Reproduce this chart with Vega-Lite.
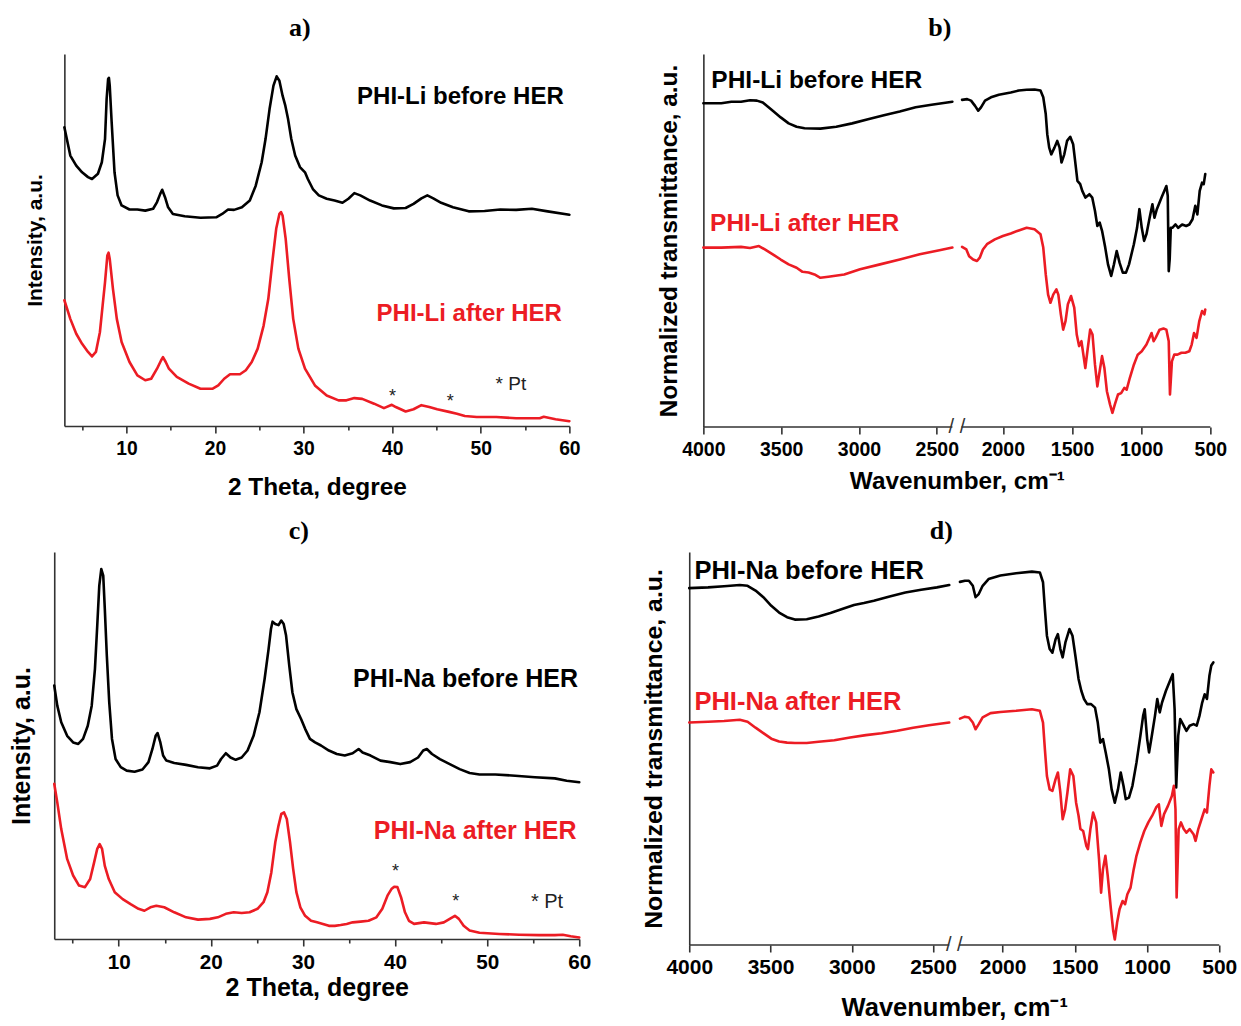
{
  "$schema": "https://vega.github.io/schema/vega-lite/v6.json",
  "background": "white",
  "padding": {"left": 9, "top": 15, "right": 0, "bottom": 0},
  "config": {
    "view": {"stroke": null},
    "axis": {
      "grid": false,
      "labelFont": "Liberation Sans",
      "labelFontWeight": "bold",
      "labelColor": "#000000",
      "titleFont": "Liberation Sans",
      "titleFontWeight": "bold",
      "titleColor": "#000000",
      "domainColor": "#333333",
      "domainWidth": 1.6,
      "tickColor": "#333333",
      "tickWidth": 1.6,
      "labelFlush": false,
      "labelOverlap": false
    },
    "title": {"font": "Liberation Serif", "fontSize": 26, "fontWeight": "bold", "color": "#000000", "anchor": "middle", "offset": 13},
    "line": {"strokeWidth": 2.6, "strokeJoin": "round", "strokeCap": "round"}
  },
  "datasets": {
    "xrdLi": [
      {"s":"before","x":3.00,"y":0.803},{"s":"before","x":3.67,"y":0.727},{"s":"before","x":4.34,"y":0.700},{"s":"before","x":5.00,"y":0.682},{"s":"before","x":5.67,"y":0.669},{"s":"before","x":6.12,"y":0.664},{"s":"before","x":6.79,"y":0.678},{"s":"before","x":7.23,"y":0.709},{"s":"before","x":7.59,"y":0.772},{"s":"before","x":7.77,"y":0.879},{"s":"before","x":7.94,"y":0.933},{"s":"before","x":8.03,"y":0.936},{"s":"before","x":8.12,"y":0.915},{"s":"before","x":8.34,"y":0.816},{"s":"before","x":8.66,"y":0.682},{"s":"before","x":9.01,"y":0.620},{"s":"before","x":9.46,"y":0.593},{"s":"before","x":10.35,"y":0.582},{"s":"before","x":11.24,"y":0.582},{"s":"before","x":12.13,"y":0.579},{"s":"before","x":13.02,"y":0.584},{"s":"before","x":13.46,"y":0.602},{"s":"before","x":13.82,"y":0.624},{"s":"before","x":14.04,"y":0.635},{"s":"before","x":14.36,"y":0.615},{"s":"before","x":14.71,"y":0.588},{"s":"before","x":15.25,"y":0.570},{"s":"before","x":16.58,"y":0.564},{"s":"before","x":18.36,"y":0.560},{"s":"before","x":20.14,"y":0.561},{"s":"before","x":20.81,"y":0.570},{"s":"before","x":21.48,"y":0.582},{"s":"before","x":22.15,"y":0.581},{"s":"before","x":23.04,"y":0.588},{"s":"before","x":23.93,"y":0.606},{"s":"before","x":24.60,"y":0.646},{"s":"before","x":25.27,"y":0.709},{"s":"before","x":25.71,"y":0.772},{"s":"before","x":26.16,"y":0.852},{"s":"before","x":26.60,"y":0.915},{"s":"before","x":26.96,"y":0.940},{"s":"before","x":27.27,"y":0.928},{"s":"before","x":27.63,"y":0.888},{"s":"before","x":27.94,"y":0.861},{"s":"before","x":28.25,"y":0.825},{"s":"before","x":28.61,"y":0.772},{"s":"before","x":29.05,"y":0.727},{"s":"before","x":29.59,"y":0.696},{"s":"before","x":30.16,"y":0.682},{"s":"before","x":30.48,"y":0.664},{"s":"before","x":31.05,"y":0.637},{"s":"before","x":31.72,"y":0.620},{"s":"before","x":32.61,"y":0.611},{"s":"before","x":33.50,"y":0.606},{"s":"before","x":34.39,"y":0.600},{"s":"before","x":35.06,"y":0.611},{"s":"before","x":35.73,"y":0.626},{"s":"before","x":36.40,"y":0.620},{"s":"before","x":37.51,"y":0.606},{"s":"before","x":38.85,"y":0.593},{"s":"before","x":40.18,"y":0.585},{"s":"before","x":41.52,"y":0.586},{"s":"before","x":42.41,"y":0.597},{"s":"before","x":43.30,"y":0.612},{"s":"before","x":43.97,"y":0.620},{"s":"before","x":44.64,"y":0.612},{"s":"before","x":45.53,"y":0.600},{"s":"before","x":46.86,"y":0.588},{"s":"before","x":48.64,"y":0.577},{"s":"before","x":50.43,"y":0.578},{"s":"before","x":52.21,"y":0.582},{"s":"before","x":53.99,"y":0.581},{"s":"before","x":55.77,"y":0.584},{"s":"before","x":57.55,"y":0.577},{"s":"before","x":60.00,"y":0.568},
      {"s":"after","x":3.00,"y":0.338},{"s":"after","x":3.67,"y":0.288},{"s":"after","x":4.34,"y":0.248},{"s":"after","x":5.00,"y":0.221},{"s":"after","x":5.67,"y":0.199},{"s":"after","x":6.12,"y":0.187},{"s":"after","x":6.56,"y":0.199},{"s":"after","x":7.01,"y":0.252},{"s":"after","x":7.32,"y":0.324},{"s":"after","x":7.59,"y":0.387},{"s":"after","x":7.85,"y":0.458},{"s":"after","x":7.99,"y":0.466},{"s":"after","x":8.12,"y":0.449},{"s":"after","x":8.48,"y":0.369},{"s":"after","x":8.92,"y":0.288},{"s":"after","x":9.46,"y":0.226},{"s":"after","x":10.35,"y":0.172},{"s":"after","x":11.24,"y":0.136},{"s":"after","x":12.13,"y":0.123},{"s":"after","x":12.80,"y":0.127},{"s":"after","x":13.46,"y":0.154},{"s":"after","x":13.91,"y":0.176},{"s":"after","x":14.13,"y":0.185},{"s":"after","x":14.44,"y":0.172},{"s":"after","x":14.80,"y":0.154},{"s":"after","x":15.69,"y":0.132},{"s":"after","x":17.03,"y":0.114},{"s":"after","x":18.36,"y":0.100},{"s":"after","x":19.70,"y":0.100},{"s":"after","x":20.37,"y":0.109},{"s":"after","x":21.04,"y":0.127},{"s":"after","x":21.70,"y":0.139},{"s":"after","x":22.82,"y":0.139},{"s":"after","x":23.48,"y":0.150},{"s":"after","x":24.15,"y":0.172},{"s":"after","x":24.82,"y":0.208},{"s":"after","x":25.49,"y":0.270},{"s":"after","x":26.02,"y":0.342},{"s":"after","x":26.47,"y":0.440},{"s":"after","x":26.91,"y":0.530},{"s":"after","x":27.27,"y":0.570},{"s":"after","x":27.45,"y":0.575},{"s":"after","x":27.63,"y":0.566},{"s":"after","x":27.98,"y":0.503},{"s":"after","x":28.38,"y":0.396},{"s":"after","x":28.83,"y":0.288},{"s":"after","x":29.41,"y":0.208},{"s":"after","x":30.16,"y":0.154},{"s":"after","x":31.28,"y":0.109},{"s":"after","x":32.61,"y":0.082},{"s":"after","x":33.95,"y":0.069},{"s":"after","x":34.84,"y":0.069},{"s":"after","x":35.73,"y":0.075},{"s":"after","x":36.62,"y":0.073},{"s":"after","x":37.96,"y":0.060},{"s":"after","x":39.07,"y":0.048},{"s":"after","x":39.96,"y":0.057},{"s":"after","x":40.41,"y":0.051},{"s":"after","x":41.52,"y":0.039},{"s":"after","x":42.41,"y":0.045},{"s":"after","x":43.30,"y":0.056},{"s":"after","x":44.19,"y":0.051},{"s":"after","x":45.08,"y":0.045},{"s":"after","x":46.42,"y":0.038},{"s":"after","x":47.31,"y":0.033},{"s":"after","x":48.20,"y":0.027},{"s":"after","x":49.54,"y":0.024},{"s":"after","x":51.76,"y":0.024},{"s":"after","x":53.99,"y":0.021},{"s":"after","x":56.66,"y":0.021},{"s":"after","x":57.11,"y":0.025},{"s":"after","x":58.44,"y":0.018},{"s":"after","x":60.00,"y":0.013}
    ],
    "xrdNa": [
      {"s":"before","x":3.00,"y":0.655},{"s":"before","x":3.33,"y":0.603},{"s":"before","x":3.76,"y":0.560},{"s":"before","x":4.40,"y":0.525},{"s":"before","x":5.05,"y":0.508},{"s":"before","x":5.61,"y":0.504},{"s":"before","x":6.13,"y":0.517},{"s":"before","x":6.64,"y":0.551},{"s":"before","x":7.07,"y":0.603},{"s":"before","x":7.42,"y":0.698},{"s":"before","x":7.67,"y":0.810},{"s":"before","x":7.89,"y":0.913},{"s":"before","x":8.11,"y":0.956},{"s":"before","x":8.32,"y":0.939},{"s":"before","x":8.49,"y":0.853},{"s":"before","x":8.71,"y":0.732},{"s":"before","x":8.97,"y":0.612},{"s":"before","x":9.27,"y":0.517},{"s":"before","x":9.66,"y":0.465},{"s":"before","x":10.22,"y":0.444},{"s":"before","x":10.86,"y":0.435},{"s":"before","x":11.72,"y":0.432},{"s":"before","x":12.58,"y":0.438},{"s":"before","x":13.23,"y":0.457},{"s":"before","x":13.66,"y":0.491},{"s":"before","x":14.01,"y":0.525},{"s":"before","x":14.22,"y":0.532},{"s":"before","x":14.52,"y":0.508},{"s":"before","x":14.82,"y":0.474},{"s":"before","x":15.17,"y":0.461},{"s":"before","x":16.03,"y":0.455},{"s":"before","x":17.32,"y":0.450},{"s":"before","x":18.61,"y":0.444},{"s":"before","x":19.90,"y":0.441},{"s":"before","x":20.68,"y":0.448},{"s":"before","x":21.11,"y":0.465},{"s":"before","x":21.63,"y":0.480},{"s":"before","x":22.14,"y":0.469},{"s":"before","x":22.70,"y":0.463},{"s":"before","x":23.35,"y":0.469},{"s":"before","x":23.99,"y":0.487},{"s":"before","x":24.64,"y":0.525},{"s":"before","x":25.28,"y":0.586},{"s":"before","x":25.84,"y":0.672},{"s":"before","x":26.27,"y":0.749},{"s":"before","x":26.53,"y":0.801},{"s":"before","x":26.70,"y":0.820},{"s":"before","x":27.00,"y":0.814},{"s":"before","x":27.35,"y":0.811},{"s":"before","x":27.65,"y":0.823},{"s":"before","x":27.91,"y":0.814},{"s":"before","x":28.17,"y":0.784},{"s":"before","x":28.52,"y":0.706},{"s":"before","x":28.86,"y":0.637},{"s":"before","x":29.29,"y":0.594},{"s":"before","x":29.81,"y":0.568},{"s":"before","x":30.24,"y":0.543},{"s":"before","x":30.76,"y":0.517},{"s":"before","x":31.32,"y":0.508},{"s":"before","x":31.96,"y":0.500},{"s":"before","x":32.82,"y":0.487},{"s":"before","x":33.68,"y":0.478},{"s":"before","x":34.54,"y":0.474},{"s":"before","x":35.40,"y":0.480},{"s":"before","x":36.05,"y":0.491},{"s":"before","x":36.48,"y":0.482},{"s":"before","x":37.34,"y":0.474},{"s":"before","x":38.42,"y":0.461},{"s":"before","x":39.49,"y":0.457},{"s":"before","x":40.57,"y":0.452},{"s":"before","x":41.64,"y":0.457},{"s":"before","x":42.50,"y":0.469},{"s":"before","x":43.06,"y":0.487},{"s":"before","x":43.45,"y":0.491},{"s":"before","x":44.01,"y":0.478},{"s":"before","x":44.87,"y":0.465},{"s":"before","x":45.94,"y":0.452},{"s":"before","x":47.02,"y":0.439},{"s":"before","x":48.10,"y":0.429},{"s":"before","x":49.17,"y":0.425},{"s":"before","x":50.89,"y":0.425},{"s":"before","x":53.05,"y":0.422},{"s":"before","x":55.20,"y":0.418},{"s":"before","x":57.35,"y":0.415},{"s":"before","x":58.64,"y":0.409},{"s":"before","x":60.00,"y":0.405},
      {"s":"after","x":3.00,"y":0.401},{"s":"after","x":3.33,"y":0.353},{"s":"after","x":3.76,"y":0.284},{"s":"after","x":4.40,"y":0.207},{"s":"after","x":5.05,"y":0.164},{"s":"after","x":5.69,"y":0.138},{"s":"after","x":6.34,"y":0.134},{"s":"after","x":6.90,"y":0.155},{"s":"after","x":7.33,"y":0.198},{"s":"after","x":7.67,"y":0.233},{"s":"after","x":7.93,"y":0.245},{"s":"after","x":8.19,"y":0.233},{"s":"after","x":8.49,"y":0.189},{"s":"after","x":8.92,"y":0.155},{"s":"after","x":9.57,"y":0.121},{"s":"after","x":10.43,"y":0.103},{"s":"after","x":11.29,"y":0.090},{"s":"after","x":12.15,"y":0.078},{"s":"after","x":12.79,"y":0.073},{"s":"after","x":13.44,"y":0.082},{"s":"after","x":14.08,"y":0.086},{"s":"after","x":14.94,"y":0.082},{"s":"after","x":16.03,"y":0.069},{"s":"after","x":17.32,"y":0.056},{"s":"after","x":18.61,"y":0.050},{"s":"after","x":19.90,"y":0.052},{"s":"after","x":20.76,"y":0.056},{"s":"after","x":21.63,"y":0.065},{"s":"after","x":22.49,"y":0.069},{"s":"after","x":23.35,"y":0.067},{"s":"after","x":24.21,"y":0.069},{"s":"after","x":25.07,"y":0.078},{"s":"after","x":25.72,"y":0.095},{"s":"after","x":26.14,"y":0.121},{"s":"after","x":26.57,"y":0.172},{"s":"after","x":27.00,"y":0.250},{"s":"after","x":27.35,"y":0.293},{"s":"after","x":27.65,"y":0.323},{"s":"after","x":27.95,"y":0.327},{"s":"after","x":28.25,"y":0.310},{"s":"after","x":28.60,"y":0.250},{"s":"after","x":28.94,"y":0.181},{"s":"after","x":29.29,"y":0.121},{"s":"after","x":29.72,"y":0.082},{"s":"after","x":30.24,"y":0.060},{"s":"after","x":30.88,"y":0.047},{"s":"after","x":31.53,"y":0.043},{"s":"after","x":32.17,"y":0.039},{"s":"after","x":32.82,"y":0.034},{"s":"after","x":33.46,"y":0.034},{"s":"after","x":34.10,"y":0.036},{"s":"after","x":34.75,"y":0.039},{"s":"after","x":35.40,"y":0.043},{"s":"after","x":36.26,"y":0.045},{"s":"after","x":37.12,"y":0.047},{"s":"after","x":37.98,"y":0.056},{"s":"after","x":38.62,"y":0.078},{"s":"after","x":39.18,"y":0.112},{"s":"after","x":39.61,"y":0.129},{"s":"after","x":39.91,"y":0.135},{"s":"after","x":40.26,"y":0.134},{"s":"after","x":40.65,"y":0.108},{"s":"after","x":41.08,"y":0.069},{"s":"after","x":41.51,"y":0.047},{"s":"after","x":42.07,"y":0.039},{"s":"after","x":43.15,"y":0.043},{"s":"after","x":44.44,"y":0.039},{"s":"after","x":45.30,"y":0.043},{"s":"after","x":45.94,"y":0.052},{"s":"after","x":46.50,"y":0.060},{"s":"after","x":46.93,"y":0.052},{"s":"after","x":47.45,"y":0.034},{"s":"after","x":48.10,"y":0.022},{"s":"after","x":49.17,"y":0.016},{"s":"after","x":51.32,"y":0.013},{"s":"after","x":53.48,"y":0.011},{"s":"after","x":55.63,"y":0.010},{"s":"after","x":57.35,"y":0.010},{"s":"after","x":58.21,"y":0.011},{"s":"after","x":59.07,"y":0.007},{"s":"after","x":60.00,"y":0.004}
    ],
    "irLi": [
      {"s":"before","g":"L","x":4000,"y":0.868},{"s":"before","g":"L","x":3885,"y":0.868},{"s":"before","g":"L","x":3820,"y":0.872},{"s":"before","g":"L","x":3758,"y":0.872},{"s":"before","g":"L","x":3700,"y":0.876},{"s":"before","g":"L","x":3656,"y":0.875},{"s":"before","g":"L","x":3618,"y":0.870},{"s":"before","g":"L","x":3554,"y":0.848},{"s":"before","g":"L","x":3503,"y":0.830},{"s":"before","g":"L","x":3452,"y":0.814},{"s":"before","g":"L","x":3401,"y":0.805},{"s":"before","g":"L","x":3350,"y":0.801},{"s":"before","g":"L","x":3248,"y":0.800},{"s":"before","g":"L","x":3146,"y":0.805},{"s":"before","g":"L","x":3044,"y":0.814},{"s":"before","g":"L","x":2942,"y":0.825},{"s":"before","g":"L","x":2840,"y":0.836},{"s":"before","g":"L","x":2738,"y":0.846},{"s":"before","g":"L","x":2636,"y":0.857},{"s":"before","g":"L","x":2534,"y":0.864},{"s":"before","g":"L","x":2400,"y":0.872},
      {"s":"before","g":"R","x":2295,"y":0.877},{"s":"before","g":"R","x":2258,"y":0.879},{"s":"before","g":"R","x":2230,"y":0.875},{"s":"before","g":"R","x":2201,"y":0.861},{"s":"before","g":"R","x":2178,"y":0.848},{"s":"before","g":"R","x":2158,"y":0.857},{"s":"before","g":"R","x":2129,"y":0.875},{"s":"before","g":"R","x":2086,"y":0.884},{"s":"before","g":"R","x":2029,"y":0.891},{"s":"before","g":"R","x":1943,"y":0.897},{"s":"before","g":"R","x":1885,"y":0.902},{"s":"before","g":"R","x":1828,"y":0.904},{"s":"before","g":"R","x":1771,"y":0.905},{"s":"before","g":"R","x":1728,"y":0.902},{"s":"before","g":"R","x":1708,"y":0.884},{"s":"before","g":"R","x":1690,"y":0.839},{"s":"before","g":"R","x":1679,"y":0.785},{"s":"before","g":"R","x":1665,"y":0.749},{"s":"before","g":"R","x":1650,"y":0.731},{"s":"before","g":"R","x":1627,"y":0.749},{"s":"before","g":"R","x":1607,"y":0.767},{"s":"before","g":"R","x":1590,"y":0.749},{"s":"before","g":"R","x":1576,"y":0.709},{"s":"before","g":"R","x":1556,"y":0.731},{"s":"before","g":"R","x":1536,"y":0.767},{"s":"before","g":"R","x":1513,"y":0.778},{"s":"before","g":"R","x":1492,"y":0.758},{"s":"before","g":"R","x":1478,"y":0.714},{"s":"before","g":"R","x":1461,"y":0.660},{"s":"before","g":"R","x":1441,"y":0.651},{"s":"before","g":"R","x":1426,"y":0.633},{"s":"before","g":"R","x":1403,"y":0.615},{"s":"before","g":"R","x":1374,"y":0.624},{"s":"before","g":"R","x":1354,"y":0.615},{"s":"before","g":"R","x":1334,"y":0.579},{"s":"before","g":"R","x":1317,"y":0.539},{"s":"before","g":"R","x":1300,"y":0.548},{"s":"before","g":"R","x":1283,"y":0.526},{"s":"before","g":"R","x":1260,"y":0.481},{"s":"before","g":"R","x":1240,"y":0.436},{"s":"before","g":"R","x":1217,"y":0.405},{"s":"before","g":"R","x":1197,"y":0.436},{"s":"before","g":"R","x":1177,"y":0.472},{"s":"before","g":"R","x":1156,"y":0.440},{"s":"before","g":"R","x":1133,"y":0.414},{"s":"before","g":"R","x":1110,"y":0.414},{"s":"before","g":"R","x":1088,"y":0.436},{"s":"before","g":"R","x":1053,"y":0.490},{"s":"before","g":"R","x":1030,"y":0.534},{"s":"before","g":"R","x":1013,"y":0.584},{"s":"before","g":"R","x":996,"y":0.534},{"s":"before","g":"R","x":979,"y":0.499},{"s":"before","g":"R","x":962,"y":0.517},{"s":"before","g":"R","x":939,"y":0.561},{"s":"before","g":"R","x":919,"y":0.597},{"s":"before","g":"R","x":904,"y":0.561},{"s":"before","g":"R","x":887,"y":0.584},{"s":"before","g":"R","x":853,"y":0.615},{"s":"before","g":"R","x":818,"y":0.646},{"s":"before","g":"R","x":808,"y":0.620},{"s":"before","g":"R","x":801,"y":0.418},{"s":"before","g":"R","x":794,"y":0.450},{"s":"before","g":"R","x":786,"y":0.534},{"s":"before","g":"R","x":775,"y":0.534},{"s":"before","g":"R","x":752,"y":0.543},{"s":"before","g":"R","x":732,"y":0.534},{"s":"before","g":"R","x":704,"y":0.543},{"s":"before","g":"R","x":675,"y":0.539},{"s":"before","g":"R","x":652,"y":0.543},{"s":"before","g":"R","x":629,"y":0.557},{"s":"before","g":"R","x":609,"y":0.593},{"s":"before","g":"R","x":594,"y":0.570},{"s":"before","g":"R","x":577,"y":0.633},{"s":"before","g":"R","x":560,"y":0.655},{"s":"before","g":"R","x":548,"y":0.651},{"s":"before","g":"R","x":537,"y":0.678},
      {"s":"after","g":"L","x":4000,"y":0.481},{"s":"after","g":"L","x":3885,"y":0.481},{"s":"after","g":"L","x":3758,"y":0.483},{"s":"after","g":"L","x":3700,"y":0.480},{"s":"after","g":"L","x":3643,"y":0.485},{"s":"after","g":"L","x":3605,"y":0.476},{"s":"after","g":"L","x":3554,"y":0.463},{"s":"after","g":"L","x":3503,"y":0.449},{"s":"after","g":"L","x":3452,"y":0.436},{"s":"after","g":"L","x":3401,"y":0.427},{"s":"after","g":"L","x":3363,"y":0.416},{"s":"after","g":"L","x":3324,"y":0.414},{"s":"after","g":"L","x":3286,"y":0.409},{"s":"after","g":"L","x":3248,"y":0.400},{"s":"after","g":"L","x":3197,"y":0.403},{"s":"after","g":"L","x":3095,"y":0.409},{"s":"after","g":"L","x":2993,"y":0.423},{"s":"after","g":"L","x":2865,"y":0.436},{"s":"after","g":"L","x":2738,"y":0.449},{"s":"after","g":"L","x":2610,"y":0.463},{"s":"after","g":"L","x":2483,"y":0.474},{"s":"after","g":"L","x":2400,"y":0.481},
      {"s":"after","g":"R","x":2295,"y":0.483},{"s":"after","g":"R","x":2264,"y":0.476},{"s":"after","g":"R","x":2244,"y":0.458},{"s":"after","g":"R","x":2215,"y":0.449},{"s":"after","g":"R","x":2187,"y":0.445},{"s":"after","g":"R","x":2167,"y":0.454},{"s":"after","g":"R","x":2144,"y":0.476},{"s":"after","g":"R","x":2115,"y":0.490},{"s":"after","g":"R","x":2058,"y":0.503},{"s":"after","g":"R","x":2000,"y":0.512},{"s":"after","g":"R","x":1943,"y":0.519},{"s":"after","g":"R","x":1885,"y":0.527},{"s":"after","g":"R","x":1828,"y":0.534},{"s":"after","g":"R","x":1771,"y":0.530},{"s":"after","g":"R","x":1728,"y":0.517},{"s":"after","g":"R","x":1708,"y":0.481},{"s":"after","g":"R","x":1690,"y":0.409},{"s":"after","g":"R","x":1673,"y":0.355},{"s":"after","g":"R","x":1656,"y":0.333},{"s":"after","g":"R","x":1636,"y":0.355},{"s":"after","g":"R","x":1613,"y":0.369},{"s":"after","g":"R","x":1599,"y":0.355},{"s":"after","g":"R","x":1581,"y":0.302},{"s":"after","g":"R","x":1564,"y":0.261},{"s":"after","g":"R","x":1547,"y":0.284},{"s":"after","g":"R","x":1530,"y":0.329},{"s":"after","g":"R","x":1507,"y":0.351},{"s":"after","g":"R","x":1484,"y":0.320},{"s":"after","g":"R","x":1466,"y":0.248},{"s":"after","g":"R","x":1449,"y":0.217},{"s":"after","g":"R","x":1432,"y":0.230},{"s":"after","g":"R","x":1418,"y":0.194},{"s":"after","g":"R","x":1404,"y":0.158},{"s":"after","g":"R","x":1389,"y":0.203},{"s":"after","g":"R","x":1369,"y":0.261},{"s":"after","g":"R","x":1352,"y":0.248},{"s":"after","g":"R","x":1334,"y":0.167},{"s":"after","g":"R","x":1317,"y":0.109},{"s":"after","g":"R","x":1300,"y":0.150},{"s":"after","g":"R","x":1283,"y":0.190},{"s":"after","g":"R","x":1266,"y":0.158},{"s":"after","g":"R","x":1248,"y":0.096},{"s":"after","g":"R","x":1225,"y":0.060},{"s":"after","g":"R","x":1208,"y":0.038},{"s":"after","g":"R","x":1191,"y":0.060},{"s":"after","g":"R","x":1168,"y":0.087},{"s":"after","g":"R","x":1145,"y":0.091},{"s":"after","g":"R","x":1122,"y":0.105},{"s":"after","g":"R","x":1105,"y":0.100},{"s":"after","g":"R","x":1082,"y":0.132},{"s":"after","g":"R","x":1053,"y":0.167},{"s":"after","g":"R","x":1025,"y":0.194},{"s":"after","g":"R","x":996,"y":0.203},{"s":"after","g":"R","x":962,"y":0.221},{"s":"after","g":"R","x":925,"y":0.252},{"s":"after","g":"R","x":910,"y":0.230},{"s":"after","g":"R","x":896,"y":0.239},{"s":"after","g":"R","x":867,"y":0.261},{"s":"after","g":"R","x":839,"y":0.264},{"s":"after","g":"R","x":818,"y":0.261},{"s":"after","g":"R","x":801,"y":0.230},{"s":"after","g":"R","x":792,"y":0.087},{"s":"after","g":"R","x":778,"y":0.176},{"s":"after","g":"R","x":761,"y":0.194},{"s":"after","g":"R","x":738,"y":0.194},{"s":"after","g":"R","x":709,"y":0.199},{"s":"after","g":"R","x":681,"y":0.199},{"s":"after","g":"R","x":652,"y":0.203},{"s":"after","g":"R","x":635,"y":0.221},{"s":"after","g":"R","x":618,"y":0.252},{"s":"after","g":"R","x":600,"y":0.239},{"s":"after","g":"R","x":580,"y":0.284},{"s":"after","g":"R","x":560,"y":0.311},{"s":"after","g":"R","x":543,"y":0.302},{"s":"after","g":"R","x":537,"y":0.315}
    ],
    "irNa": [
      {"s":"before","g":"L","x":4000,"y":0.908},{"s":"before","g":"L","x":3884,"y":0.910},{"s":"before","g":"L","x":3786,"y":0.913},{"s":"before","g":"L","x":3689,"y":0.916},{"s":"before","g":"L","x":3641,"y":0.914},{"s":"before","g":"L","x":3592,"y":0.902},{"s":"before","g":"L","x":3544,"y":0.885},{"s":"before","g":"L","x":3495,"y":0.863},{"s":"before","g":"L","x":3447,"y":0.846},{"s":"before","g":"L","x":3398,"y":0.834},{"s":"before","g":"L","x":3350,"y":0.828},{"s":"before","g":"L","x":3277,"y":0.829},{"s":"before","g":"L","x":3204,"y":0.836},{"s":"before","g":"L","x":3131,"y":0.845},{"s":"before","g":"L","x":3059,"y":0.855},{"s":"before","g":"L","x":2986,"y":0.865},{"s":"before","g":"L","x":2925,"y":0.870},{"s":"before","g":"L","x":2864,"y":0.876},{"s":"before","g":"L","x":2767,"y":0.887},{"s":"before","g":"L","x":2670,"y":0.897},{"s":"before","g":"L","x":2573,"y":0.904},{"s":"before","g":"L","x":2476,"y":0.910},{"s":"before","g":"L","x":2400,"y":0.916},
      {"s":"before","g":"R","x":2295,"y":0.924},{"s":"before","g":"R","x":2261,"y":0.927},{"s":"before","g":"R","x":2233,"y":0.927},{"s":"before","g":"R","x":2206,"y":0.914},{"s":"before","g":"R","x":2187,"y":0.885},{"s":"before","g":"R","x":2165,"y":0.893},{"s":"before","g":"R","x":2138,"y":0.914},{"s":"before","g":"R","x":2097,"y":0.931},{"s":"before","g":"R","x":2015,"y":0.940},{"s":"before","g":"R","x":1906,"y":0.946},{"s":"before","g":"R","x":1797,"y":0.950},{"s":"before","g":"R","x":1742,"y":0.948},{"s":"before","g":"R","x":1720,"y":0.923},{"s":"before","g":"R","x":1707,"y":0.855},{"s":"before","g":"R","x":1693,"y":0.787},{"s":"before","g":"R","x":1674,"y":0.753},{"s":"before","g":"R","x":1655,"y":0.744},{"s":"before","g":"R","x":1633,"y":0.778},{"s":"before","g":"R","x":1617,"y":0.791},{"s":"before","g":"R","x":1600,"y":0.753},{"s":"before","g":"R","x":1584,"y":0.732},{"s":"before","g":"R","x":1565,"y":0.770},{"s":"before","g":"R","x":1537,"y":0.804},{"s":"before","g":"R","x":1516,"y":0.787},{"s":"before","g":"R","x":1496,"y":0.736},{"s":"before","g":"R","x":1474,"y":0.677},{"s":"before","g":"R","x":1455,"y":0.647},{"s":"before","g":"R","x":1436,"y":0.626},{"s":"before","g":"R","x":1414,"y":0.613},{"s":"before","g":"R","x":1387,"y":0.613},{"s":"before","g":"R","x":1360,"y":0.604},{"s":"before","g":"R","x":1341,"y":0.566},{"s":"before","g":"R","x":1324,"y":0.515},{"s":"before","g":"R","x":1305,"y":0.524},{"s":"before","g":"R","x":1286,"y":0.490},{"s":"before","g":"R","x":1264,"y":0.447},{"s":"before","g":"R","x":1245,"y":0.396},{"s":"before","g":"R","x":1223,"y":0.362},{"s":"before","g":"R","x":1201,"y":0.396},{"s":"before","g":"R","x":1182,"y":0.439},{"s":"before","g":"R","x":1163,"y":0.405},{"s":"before","g":"R","x":1147,"y":0.371},{"s":"before","g":"R","x":1125,"y":0.375},{"s":"before","g":"R","x":1101,"y":0.405},{"s":"before","g":"R","x":1073,"y":0.464},{"s":"before","g":"R","x":1046,"y":0.532},{"s":"before","g":"R","x":1027,"y":0.583},{"s":"before","g":"R","x":1016,"y":0.600},{"s":"before","g":"R","x":999,"y":0.524},{"s":"before","g":"R","x":986,"y":0.490},{"s":"before","g":"R","x":967,"y":0.532},{"s":"before","g":"R","x":945,"y":0.583},{"s":"before","g":"R","x":929,"y":0.626},{"s":"before","g":"R","x":912,"y":0.592},{"s":"before","g":"R","x":896,"y":0.617},{"s":"before","g":"R","x":869,"y":0.647},{"s":"before","g":"R","x":836,"y":0.677},{"s":"before","g":"R","x":822,"y":0.689},{"s":"before","g":"R","x":809,"y":0.600},{"s":"before","g":"R","x":798,"y":0.401},{"s":"before","g":"R","x":784,"y":0.532},{"s":"before","g":"R","x":770,"y":0.575},{"s":"before","g":"R","x":746,"y":0.558},{"s":"before","g":"R","x":727,"y":0.545},{"s":"before","g":"R","x":705,"y":0.558},{"s":"before","g":"R","x":678,"y":0.562},{"s":"before","g":"R","x":656,"y":0.558},{"s":"before","g":"R","x":637,"y":0.583},{"s":"before","g":"R","x":618,"y":0.617},{"s":"before","g":"R","x":601,"y":0.638},{"s":"before","g":"R","x":585,"y":0.626},{"s":"before","g":"R","x":568,"y":0.685},{"s":"before","g":"R","x":555,"y":0.711},{"s":"before","g":"R","x":541,"y":0.719},
      {"s":"after","g":"L","x":4000,"y":0.566},{"s":"after","g":"L","x":3884,"y":0.568},{"s":"after","g":"L","x":3786,"y":0.570},{"s":"after","g":"L","x":3689,"y":0.573},{"s":"after","g":"L","x":3641,"y":0.568},{"s":"after","g":"L","x":3592,"y":0.553},{"s":"after","g":"L","x":3544,"y":0.539},{"s":"after","g":"L","x":3495,"y":0.525},{"s":"after","g":"L","x":3447,"y":0.518},{"s":"after","g":"L","x":3398,"y":0.515},{"s":"after","g":"L","x":3350,"y":0.514},{"s":"after","g":"L","x":3277,"y":0.514},{"s":"after","g":"L","x":3204,"y":0.517},{"s":"after","g":"L","x":3107,"y":0.521},{"s":"after","g":"L","x":3010,"y":0.528},{"s":"after","g":"L","x":2913,"y":0.534},{"s":"after","g":"L","x":2816,"y":0.539},{"s":"after","g":"L","x":2719,"y":0.545},{"s":"after","g":"L","x":2622,"y":0.553},{"s":"after","g":"L","x":2525,"y":0.559},{"s":"after","g":"L","x":2400,"y":0.566},
      {"s":"after","g":"R","x":2295,"y":0.576},{"s":"after","g":"R","x":2261,"y":0.581},{"s":"after","g":"R","x":2233,"y":0.579},{"s":"after","g":"R","x":2206,"y":0.566},{"s":"after","g":"R","x":2187,"y":0.549},{"s":"after","g":"R","x":2165,"y":0.562},{"s":"after","g":"R","x":2138,"y":0.579},{"s":"after","g":"R","x":2083,"y":0.590},{"s":"after","g":"R","x":2015,"y":0.593},{"s":"after","g":"R","x":1906,"y":0.596},{"s":"after","g":"R","x":1797,"y":0.600},{"s":"after","g":"R","x":1742,"y":0.596},{"s":"after","g":"R","x":1720,"y":0.566},{"s":"after","g":"R","x":1707,"y":0.498},{"s":"after","g":"R","x":1693,"y":0.430},{"s":"after","g":"R","x":1674,"y":0.396},{"s":"after","g":"R","x":1655,"y":0.392},{"s":"after","g":"R","x":1633,"y":0.422},{"s":"after","g":"R","x":1617,"y":0.439},{"s":"after","g":"R","x":1600,"y":0.388},{"s":"after","g":"R","x":1584,"y":0.320},{"s":"after","g":"R","x":1567,"y":0.345},{"s":"after","g":"R","x":1551,"y":0.388},{"s":"after","g":"R","x":1532,"y":0.447},{"s":"after","g":"R","x":1510,"y":0.430},{"s":"after","g":"R","x":1491,"y":0.362},{"s":"after","g":"R","x":1474,"y":0.329},{"s":"after","g":"R","x":1461,"y":0.295},{"s":"after","g":"R","x":1442,"y":0.290},{"s":"after","g":"R","x":1420,"y":0.252},{"s":"after","g":"R","x":1409,"y":0.244},{"s":"after","g":"R","x":1392,"y":0.295},{"s":"after","g":"R","x":1373,"y":0.337},{"s":"after","g":"R","x":1352,"y":0.312},{"s":"after","g":"R","x":1332,"y":0.218},{"s":"after","g":"R","x":1318,"y":0.133},{"s":"after","g":"R","x":1305,"y":0.193},{"s":"after","g":"R","x":1288,"y":0.227},{"s":"after","g":"R","x":1272,"y":0.176},{"s":"after","g":"R","x":1250,"y":0.091},{"s":"after","g":"R","x":1234,"y":0.036},{"s":"after","g":"R","x":1223,"y":0.014},{"s":"after","g":"R","x":1207,"y":0.057},{"s":"after","g":"R","x":1190,"y":0.091},{"s":"after","g":"R","x":1169,"y":0.112},{"s":"after","g":"R","x":1152,"y":0.104},{"s":"after","g":"R","x":1136,"y":0.129},{"s":"after","g":"R","x":1114,"y":0.146},{"s":"after","g":"R","x":1092,"y":0.193},{"s":"after","g":"R","x":1073,"y":0.227},{"s":"after","g":"R","x":1046,"y":0.261},{"s":"after","g":"R","x":1019,"y":0.290},{"s":"after","g":"R","x":991,"y":0.312},{"s":"after","g":"R","x":964,"y":0.329},{"s":"after","g":"R","x":937,"y":0.350},{"s":"after","g":"R","x":918,"y":0.358},{"s":"after","g":"R","x":901,"y":0.303},{"s":"after","g":"R","x":882,"y":0.333},{"s":"after","g":"R","x":855,"y":0.354},{"s":"after","g":"R","x":828,"y":0.379},{"s":"after","g":"R","x":814,"y":0.405},{"s":"after","g":"R","x":803,"y":0.346},{"s":"after","g":"R","x":795,"y":0.121},{"s":"after","g":"R","x":781,"y":0.295},{"s":"after","g":"R","x":765,"y":0.312},{"s":"after","g":"R","x":746,"y":0.295},{"s":"after","g":"R","x":727,"y":0.286},{"s":"after","g":"R","x":705,"y":0.295},{"s":"after","g":"R","x":678,"y":0.282},{"s":"after","g":"R","x":664,"y":0.265},{"s":"after","g":"R","x":645,"y":0.295},{"s":"after","g":"R","x":623,"y":0.320},{"s":"after","g":"R","x":601,"y":0.345},{"s":"after","g":"R","x":585,"y":0.337},{"s":"after","g":"R","x":568,"y":0.405},{"s":"after","g":"R","x":555,"y":0.447},{"s":"after","g":"R","x":541,"y":0.439}
    ]
  },
  "center": true,
  "spacing": 19,
  "vconcat": [
    {
      "spacing": 77,
      "hconcat": [
        {
          "width": 505,
          "height": 372,
          "title": {"text": "a)", "dx": -17},
          "layer": [
            {
              "data": {"name": "xrdLi"},
              "mark": {"type": "line"},
              "encoding": {
                "x": {"field": "x", "type": "quantitative",
                  "scale": {"domain": [3, 60], "nice": false, "zero": false},
                  "axis": {"title": "2 Theta, degree", "values": [5,10,15,20,25,30,35,40,45,50,55,60], "format": "d",
                    "labelExpr": "datum.value % 10 === 0 ? datum.label : ''",
                    "tickSize": {"condition": {"test": "datum.value % 10 === 0", "value": 7}, "value": 4},
                    "labelFontSize": 19.3, "titleFontSize": 24.4, "labelPadding": 6, "titlePadding": 17}},
                "y": {"field": "y", "type": "quantitative",
                  "scale": {"domain": [0, 1], "nice": false, "zero": false},
                  "axis": {"title": "Intensity, a.u.", "ticks": false, "labels": false, "titleFontSize": 21, "titlePadding": 19}},
                "color": {"field": "s", "type": "nominal", "scale": {"domain": ["before", "after"], "range": ["#000000", "#ec1c24"]}, "legend": null}
              }
            },
            {"data": {"values": [{}]}, "mark": {"type": "text", "font": "Liberation Sans", "fontWeight": "bold", "fontSize": 24, "align": "center", "baseline": "middle", "color": "#000000"},
             "encoding": {"x": {"datum": 47.7}, "y": {"datum": 0.884}, "text": {"value": "PHI-Li before HER"}}},
            {"data": {"values": [{}]}, "mark": {"type": "text", "font": "Liberation Sans", "fontWeight": "bold", "fontSize": 24, "align": "center", "baseline": "middle", "color": "#ec1c24"},
             "encoding": {"x": {"datum": 48.7}, "y": {"datum": 0.302}, "text": {"value": "PHI-Li after HER"}}},
            {"data": {"values": [{}]}, "mark": {"type": "text", "font": "Liberation Sans", "fontSize": 18, "align": "center", "baseline": "alphabetic", "dy": 10, "color": "#222222"},
             "encoding": {"x": {"datum": 40.05}, "y": {"datum": 0.091}, "text": {"value": "*"}}},
            {"data": {"values": [{}]}, "mark": {"type": "text", "font": "Liberation Sans", "fontSize": 18, "align": "center", "baseline": "alphabetic", "dy": 10, "color": "#222222"},
             "encoding": {"x": {"datum": 46.55}, "y": {"datum": 0.078}, "text": {"value": "*"}}},
            {"data": {"values": [{}]}, "mark": {"type": "text", "font": "Liberation Sans", "fontSize": 19, "align": "center", "baseline": "middle", "color": "#222222"},
             "encoding": {"x": {"datum": 53.4}, "y": {"datum": 0.114}, "text": {"value": "* Pt"}}}
          ]
        },
        {
          "width": 507,
          "height": 373,
          "title": {"text": "b)", "dx": -17},
          "layer": [
            {
              "data": {"name": "irLi"},
              "mark": {"type": "line"},
              "encoding": {
                "x": {"field": "x", "type": "quantitative",
                  "scale": {"domain": [4000, 2400, 2300, 500], "range": [0, 249, 258, 507], "nice": false, "zero": false},
                  "axis": {"title": "Wavenumber, cm⁻¹", "domain": false,
                    "values": [4000,3750,3500,3250,3000,2750,2500,2250,2000,1750,1500,1250,1000,750,500], "format": "d",
                    "labelExpr": "datum.value % 500 === 0 ? datum.label : ''",
                    "tickSize": {"condition": {"test": "datum.value % 500 === 0", "value": 7}, "value": 4},
                    "labelFontSize": 19.5, "titleFontSize": 24.3, "labelPadding": 6, "titlePadding": 11}},
                "y": {"field": "y", "type": "quantitative",
                  "scale": {"domain": [0, 1], "nice": false, "zero": false},
                  "axis": {"title": "Normalized transmittance, a.u.", "ticks": false, "labels": false, "titleFontSize": 24.3, "titlePadding": 22}},
                "color": {"field": "s", "type": "nominal", "scale": {"domain": ["before", "after"], "range": ["#000000", "#ec1c24"]}, "legend": null},
                "detail": {"field": "g", "type": "nominal"}
              }
            },
            {"data": {"values": [{}]}, "mark": {"type": "rule", "color": "#333333", "strokeWidth": 1.6},
             "encoding": {"x": {"datum": 4000}, "x2": {"datum": 2400}, "y": {"datum": 0}}},
            {"data": {"values": [{}]}, "mark": {"type": "rule", "color": "#333333", "strokeWidth": 1.6},
             "encoding": {"x": {"datum": 2300}, "x2": {"datum": 500}, "y": {"datum": 0}}},
            {"data": {"values": [{}]}, "mark": {"type": "text", "font": "Liberation Sans", "fontSize": 20, "align": "center", "baseline": "middle", "color": "#333333"},
             "encoding": {"x": {"datum": 2350}, "y": {"datum": 0}, "text": {"value": "/ /"}}},
            {"data": {"values": [{}]}, "mark": {"type": "text", "font": "Liberation Sans", "fontWeight": "bold", "fontSize": 24.5, "align": "left", "baseline": "middle", "color": "#000000"},
             "encoding": {"x": {"datum": 3949}, "y": {"datum": 0.928}, "text": {"value": "PHI-Li before HER"}}},
            {"data": {"values": [{}]}, "mark": {"type": "text", "font": "Liberation Sans", "fontWeight": "bold", "fontSize": 24.5, "align": "left", "baseline": "middle", "color": "#ec1c24"},
             "encoding": {"x": {"datum": 3957}, "y": {"datum": 0.543}, "text": {"value": "PHI-Li after HER"}}}
          ]
        }
      ]
    },
    {
      "spacing": 50,
      "hconcat": [
        {
          "width": 525,
          "height": 387,
          "title": {"text": "c)", "dx": -18, "offset": 8},
          "layer": [
            {
              "data": {"name": "xrdNa"},
              "mark": {"type": "line"},
              "encoding": {
                "x": {"field": "x", "type": "quantitative",
                  "scale": {"domain": [3, 60], "nice": false, "zero": false},
                  "axis": {"title": "2 Theta, degree", "values": [5,10,15,20,25,30,35,40,45,50,55,60], "format": "d",
                    "labelExpr": "datum.value % 10 === 0 ? datum.label : ''",
                    "tickSize": {"condition": {"test": "datum.value % 10 === 0", "value": 7}, "value": 4},
                    "labelFontSize": 20.7, "titleFontSize": 25, "labelPadding": 6, "titlePadding": 4}},
                "y": {"field": "y", "type": "quantitative",
                  "scale": {"domain": [0, 1], "nice": false, "zero": false},
                  "axis": {"title": "Intensity, a.u.", "ticks": false, "labels": false, "titleFontSize": 25, "titlePadding": 19.5}},
                "color": {"field": "s", "type": "nominal", "scale": {"domain": ["before", "after"], "range": ["#000000", "#ec1c24"]}, "legend": null}
              }
            },
            {"data": {"values": [{}]}, "mark": {"type": "text", "font": "Liberation Sans", "fontWeight": "bold", "fontSize": 25, "align": "center", "baseline": "middle", "color": "#000000"},
             "encoding": {"x": {"datum": 47.66}, "y": {"datum": 0.672}, "text": {"value": "PHI-Na before HER"}}},
            {"data": {"values": [{}]}, "mark": {"type": "text", "font": "Liberation Sans", "fontWeight": "bold", "fontSize": 25, "align": "center", "baseline": "middle", "color": "#ec1c24"},
             "encoding": {"x": {"datum": 48.7}, "y": {"datum": 0.28}, "text": {"value": "PHI-Na after HER"}}},
            {"data": {"values": [{}]}, "mark": {"type": "text", "font": "Liberation Sans", "fontSize": 18, "align": "center", "baseline": "alphabetic", "dy": 10, "color": "#222222"},
             "encoding": {"x": {"datum": 40.04}, "y": {"datum": 0.187}, "text": {"value": "*"}}},
            {"data": {"values": [{}]}, "mark": {"type": "text", "font": "Liberation Sans", "fontSize": 18, "align": "center", "baseline": "alphabetic", "dy": 10, "color": "#222222"},
             "encoding": {"x": {"datum": 46.58}, "y": {"datum": 0.108}, "text": {"value": "*"}}},
            {"data": {"values": [{}]}, "mark": {"type": "text", "font": "Liberation Sans", "fontSize": 20, "align": "center", "baseline": "middle", "color": "#222222"},
             "encoding": {"x": {"datum": 56.5}, "y": {"datum": 0.096}, "text": {"value": "* Pt"}}}
          ]
        },
        {
          "width": 530,
          "height": 393,
          "title": {"text": "d)", "dx": -13, "offset": 8},
          "layer": [
            {
              "data": {"name": "irNa"},
              "mark": {"type": "line"},
              "encoding": {
                "x": {"field": "x", "type": "quantitative",
                  "scale": {"domain": [4000, 2400, 2300, 500], "range": [0, 260, 270, 530], "nice": false, "zero": false},
                  "axis": {"title": "Wavenumber, cm⁻¹", "domain": false,
                    "values": [4000,3750,3500,3250,3000,2750,2500,2250,2000,1750,1500,1250,1000,750,500], "format": "d",
                    "labelExpr": "datum.value % 500 === 0 ? datum.label : ''",
                    "tickSize": {"condition": {"test": "datum.value % 500 === 0", "value": 7}, "value": 4},
                    "labelFontSize": 21, "titleFontSize": 25.5, "labelPadding": 4, "titlePadding": 18}},
                "y": {"field": "y", "type": "quantitative",
                  "scale": {"domain": [0, 1], "nice": false, "zero": false},
                  "axis": {"title": "Normalized transmittance, a.u.", "ticks": false, "labels": false, "titleFontSize": 24.8, "titlePadding": 22.5}},
                "color": {"field": "s", "type": "nominal", "scale": {"domain": ["before", "after"], "range": ["#000000", "#ec1c24"]}, "legend": null},
                "detail": {"field": "g", "type": "nominal"}
              }
            },
            {"data": {"values": [{}]}, "mark": {"type": "rule", "color": "#333333", "strokeWidth": 1.6},
             "encoding": {"x": {"datum": 4000}, "x2": {"datum": 2400}, "y": {"datum": 0}}},
            {"data": {"values": [{}]}, "mark": {"type": "rule", "color": "#333333", "strokeWidth": 1.6},
             "encoding": {"x": {"datum": 2300}, "x2": {"datum": 500}, "y": {"datum": 0}}},
            {"data": {"values": [{}]}, "mark": {"type": "text", "font": "Liberation Sans", "fontSize": 20, "align": "center", "baseline": "middle", "color": "#333333"},
             "encoding": {"x": {"datum": 2350}, "y": {"datum": 0}, "text": {"value": "/ /"}}},
            {"data": {"values": [{}]}, "mark": {"type": "text", "font": "Liberation Sans", "fontWeight": "bold", "fontSize": 25.5, "align": "left", "baseline": "middle", "color": "#000000"},
             "encoding": {"x": {"datum": 3968}, "y": {"datum": 0.952}, "text": {"value": "PHI-Na before HER"}}},
            {"data": {"values": [{}]}, "mark": {"type": "text", "font": "Liberation Sans", "fontWeight": "bold", "fontSize": 25.5, "align": "left", "baseline": "middle", "color": "#ec1c24"},
             "encoding": {"x": {"datum": 3968}, "y": {"datum": 0.619}, "text": {"value": "PHI-Na after HER"}}}
          ]
        }
      ]
    }
  ]
}
